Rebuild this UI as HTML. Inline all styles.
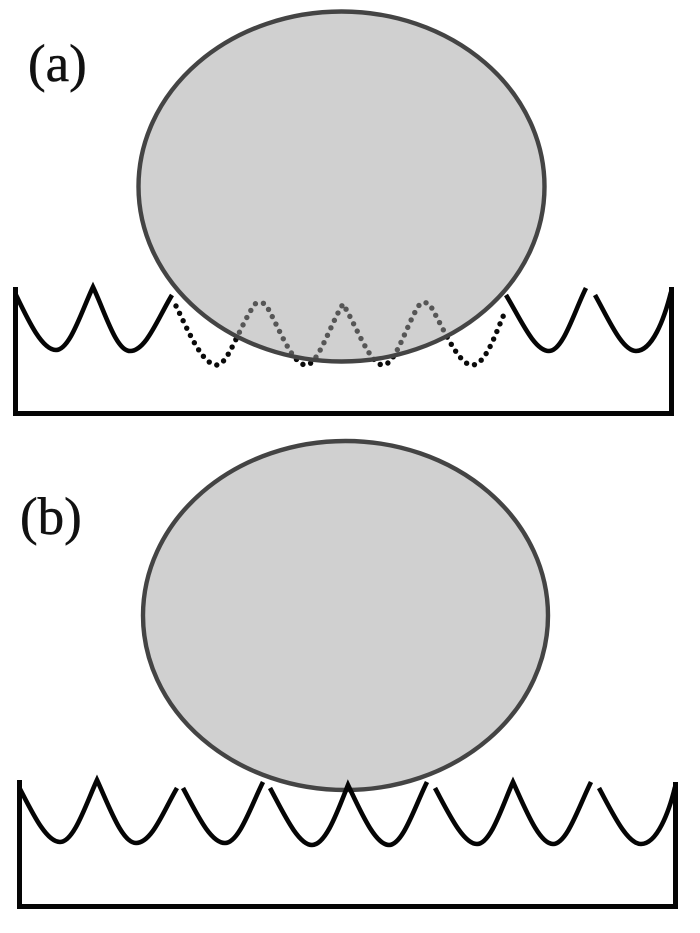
<!DOCTYPE html>
<html>
<head>
<meta charset="utf-8">
<style>
html,body{margin:0;padding:0;background:#fff;}
svg{display:block;}
text{font-family:"Liberation Serif",serif;font-size:53px;fill:#111;stroke:#111;stroke-width:0.5px;}
.s{fill:none;stroke:#050505;stroke-width:4.6;stroke-linecap:butt;}
.f{fill:none;stroke:#050505;stroke-width:5;stroke-linejoin:miter;}
.d{fill:none;stroke:#0a0a0a;stroke-width:5.4;stroke-linecap:round;stroke-dasharray:0 8.2;}
</style>
</head>
<body>
<svg width="700" height="933" viewBox="0 0 700 933" xmlns="http://www.w3.org/2000/svg">
<rect width="700" height="933" fill="#fff"/>

<text x="28" y="81">(a)</text>
<text x="20" y="534">(b)</text>

<!-- Panel a -->
<path class="d" d="M176 306 C188 330 202 365 217 365 C228 365 240 325 255 304 C258 302 263 302 266 305 C278 325 292 365 306 365 C318 365 330 325 343 304 C356 325 370 365 383 365 C396 365 408 320 420 304 C423 302 427 302 430 305 C442 325 458 365 472 365 C486 365 496 332 505 312"/>
<ellipse cx="341.5" cy="186.5" rx="203" ry="175" fill="#a1a1a1" fill-opacity="0.5"/>
<ellipse cx="341.5" cy="186.5" rx="203" ry="175" fill="none" stroke="#444" stroke-width="4.400"/>
<path class="f" d="M15.500 287 V413.500 H671.500 V287"/>
<path class="s" d="M16 295 C28 320 42 350 56 350 C70 350 82 310 93 287 C105 312 116 351 130 351 C146 351 158 318 172 295"/>
<path class="s" d="M506 295 C520 318 534 351 549 351 C563 351 574 312 586 288"/>
<path class="s" d="M595 295 C608 318 622 351 636 351 C652 351 664 320 671 292"/>

<!-- Panel b -->
<ellipse cx="345.500" cy="615.500" rx="202.500" ry="174.500" fill="#d0d0d0" stroke="#444" stroke-width="4.400"/>
<path class="f" d="M19.500 780 V906.500 H675.500 V782"/>
<path class="s" d="M19 787 C32 812 46 842 60 842 C74 842 86 804 97 780 C109 806 122 843 136 843 C152 843 164 810 177 788"/>
<path class="s" d="M183 788 C196 812 210 843 225 843 C239 843 251 806 263 782"/>
<path class="s" d="M270 788 C283 812 298 845 312 845 C326 845 338 810 348 785 C360 810 375 845 389 845 C403 845 415 806 427 782"/>
<path class="s" d="M435 788 C448 812 463 844 477 844 C491 844 503 804 513 782 C525 808 539 844 553 844 C567 844 579 806 591 782"/>
<path class="s" d="M599 788 C612 812 627 844 641 844 C657 844 669 812 675 787"/>
</svg>
</body>
</html>
